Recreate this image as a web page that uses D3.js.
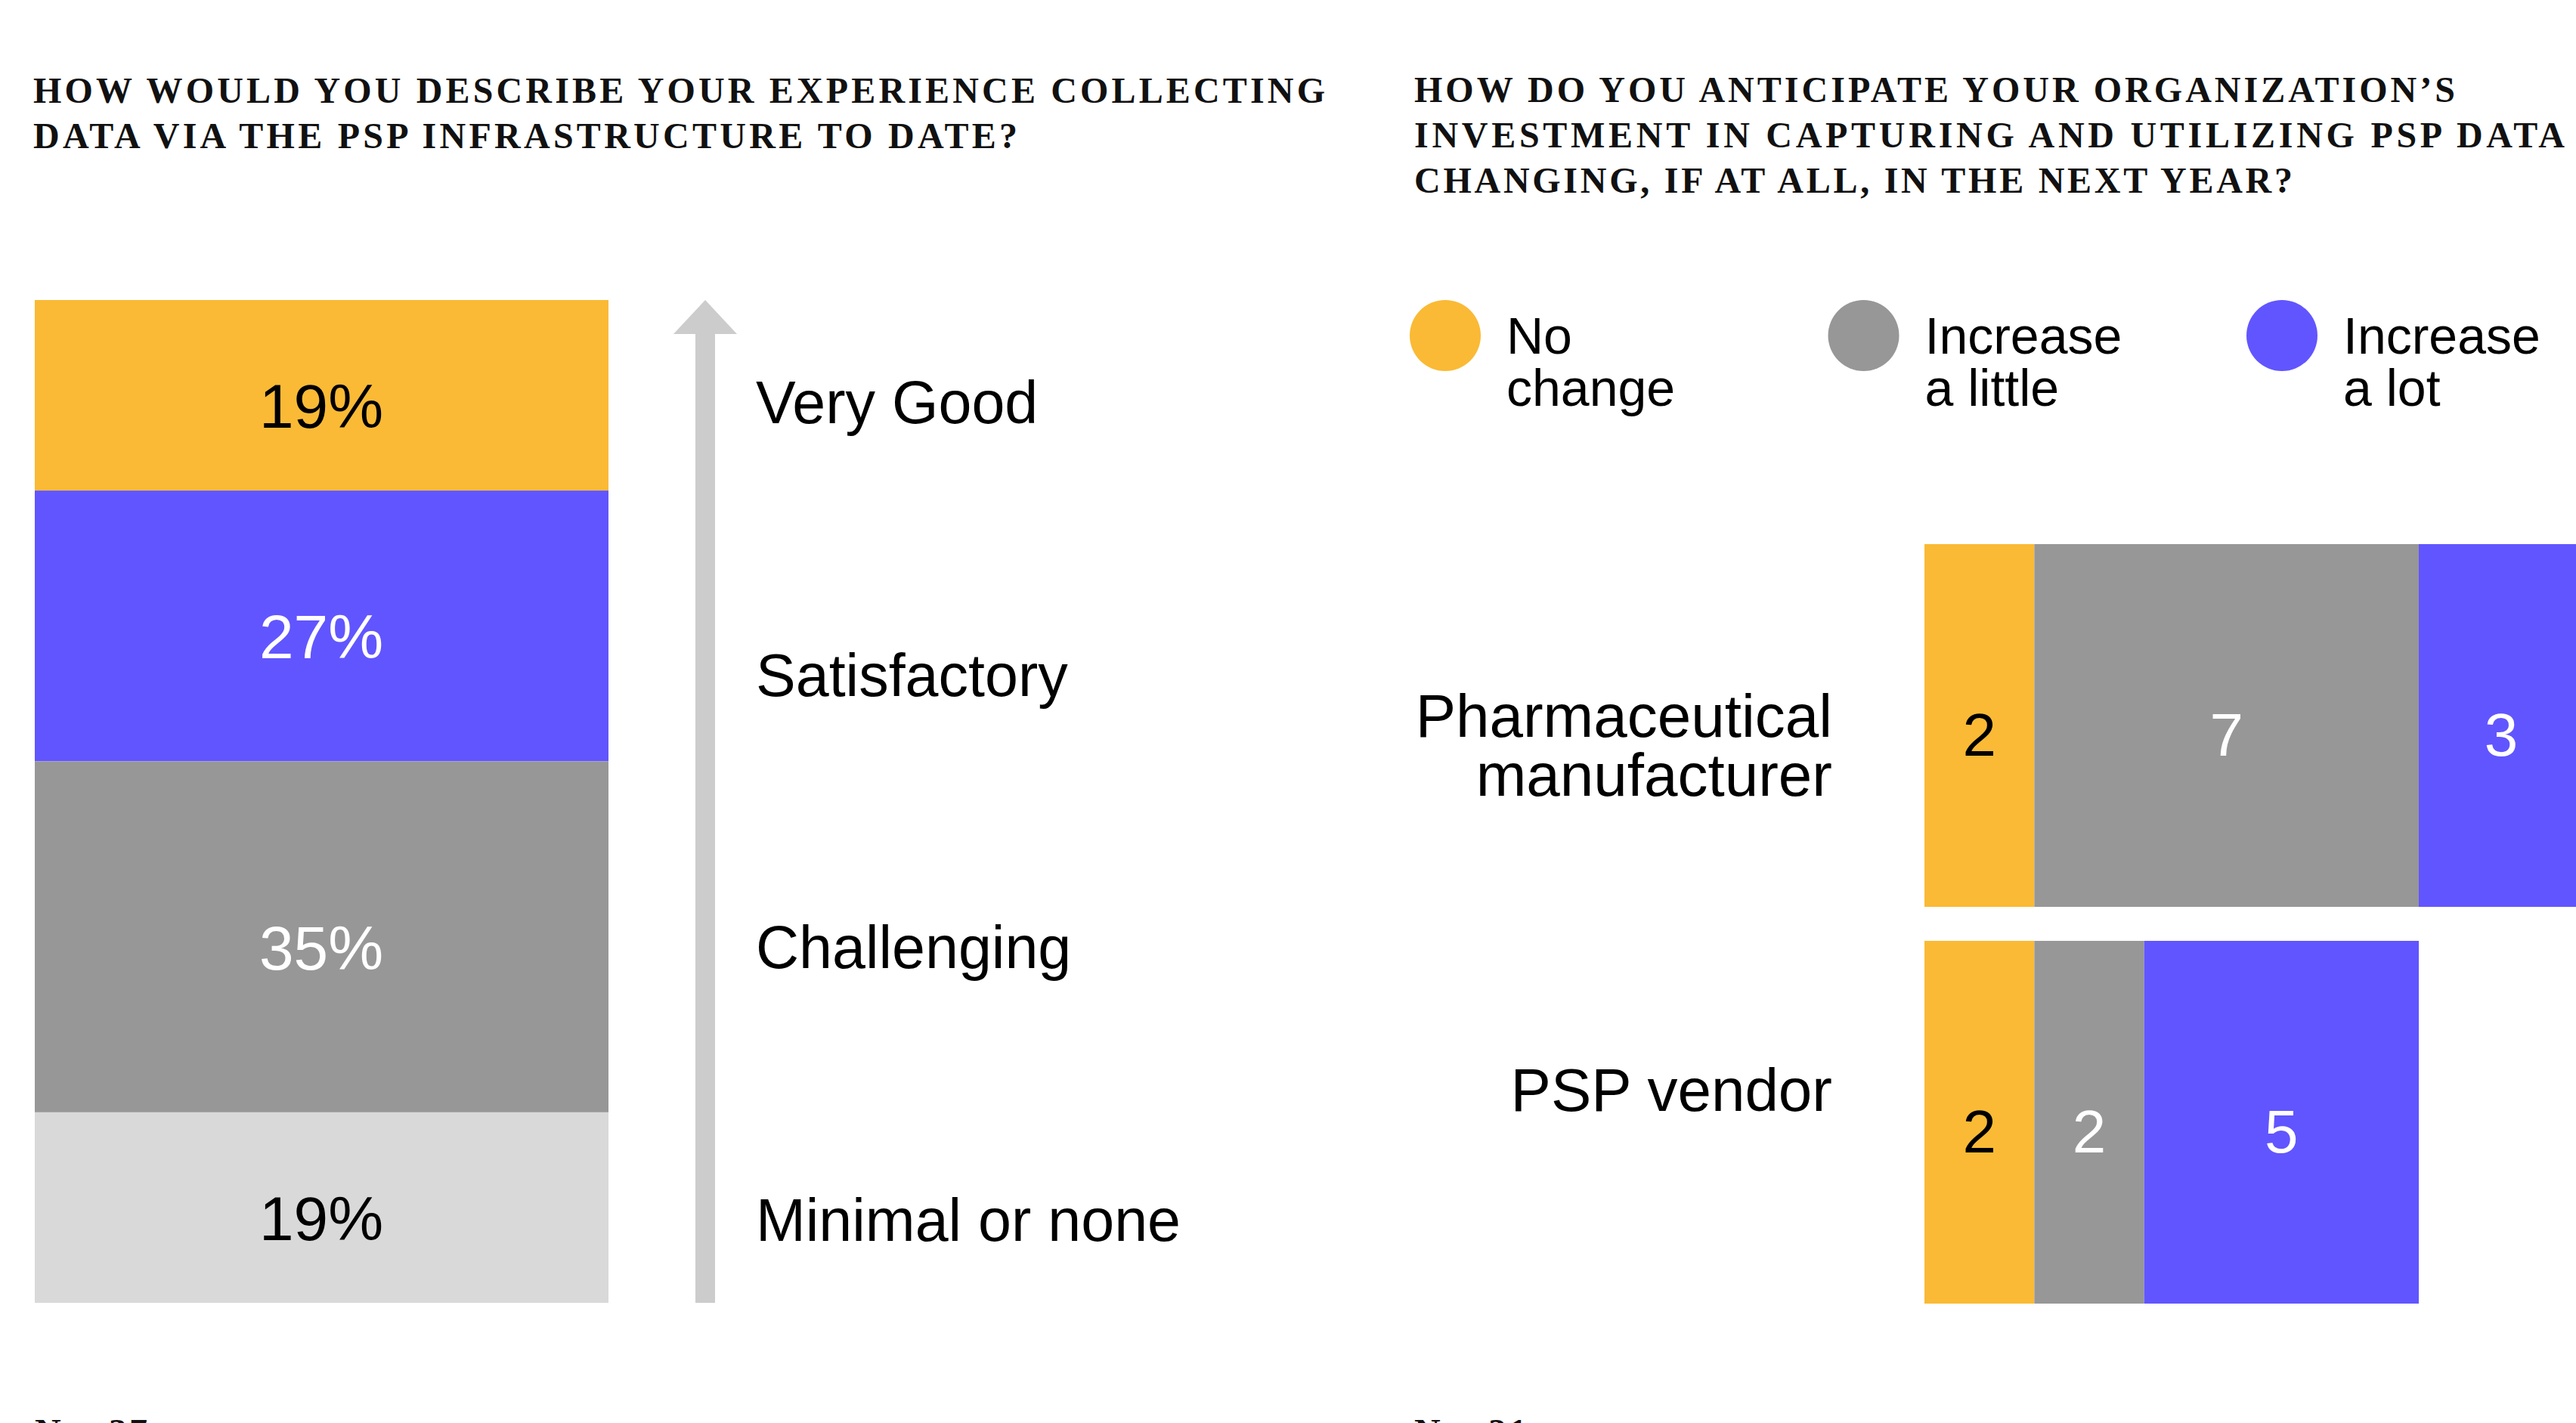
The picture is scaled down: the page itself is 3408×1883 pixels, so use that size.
<html>
<head>
  <meta charset="utf-8">
  <script src="https://d3js.org/d3.v7.min.js"></script>
  <style>
    body { margin: 0; background: #fff; }
    .title { font-family: "Liberation Serif", serif; font-weight: bold; font-size: 48px; fill: #111; }
    .lbl { font-family: "Liberation Sans", Arial, sans-serif; fill: #000; }
  </style>
</head>
<body>
<svg id="chart" width="3408" height="1883"></svg>
<script>
// left panel: experience collecting data
var ratingLabels = ["Very Good", "Satisfactory", "Challenging", "Minimal or none"];
var ratingShares = [19, 27, 35, 19];
var ratingColors = ["#FABA35", "#6155FF", "#979797", "#D9D9D9"];
var ratingText = ["#000", "#fff", "#fff", "#000"];

// right panel: investment change by organisation type
var groups = [["Pharmaceutical", "manufacturer"], ["PSP vendor"]];
var noChange = [2, 2];
var increaseLittle = [7, 2];
var increaseLot = [3, 5];
var seriesNames = [["No", "change"], ["Increase", "a little"], ["Increase", "a lot"]];
var seriesColors = ["#FABA35", "#979797", "#6155FF"];
var seriesText = ["#000", "#fff", "#fff"];

var leftTitle = ["HOW WOULD YOU DESCRIBE YOUR EXPERIENCE COLLECTING",
                 "DATA VIA THE PSP INFRASTRUCTURE TO DATE?"];
var rightTitle = ["HOW DO YOU ANTICIPATE YOUR ORGANIZATION\u2019S",
                  "INVESTMENT IN CAPTURING AND UTILIZING PSP DATA",
                  "CHANGING, IF AT ALL, IN THE NEXT YEAR?"];
var leftN = "N = 37", rightN = "N = 21";

var svg = d3.select("#chart");

// titles
function title(lines, x, y0, widths) {
  var t = svg.append("text").attr("class", "title");
  lines.forEach(function(l, i) {
    t.append("tspan").attr("x", x).attr("y", y0 + i * 60)
      .attr("textLength", widths[i]).attr("lengthAdjust", "spacing").text(l);
  });
}
title(leftTitle, 44, 136, [1709, 1302]);
title(rightTitle, 1871, 135, [1377, 1522, 1162]);

svg.append("text").attr("class", "title").attr("x", 46).attr("y", 1911).attr("letter-spacing", 3).text(leftN);
svg.append("text").attr("class", "title").attr("x", 1871).attr("y", 1911).attr("letter-spacing", 3).text(rightN);

// ---- left stacked column
var y = d3.scaleLinear().domain([0, 100]).range([397, 1724]);
var cum = 0;
var segs = ratingShares.map(function(v, i) {
  var s = {v: v, i: i, y0: cum, y1: cum + v};
  cum += v;
  return s;
});

var col = svg.append("g");
col.selectAll("rect").data(segs).enter().append("rect")
  .attr("x", 46).attr("width", 759)
  .attr("y", function(d) { return y(d.y0); })
  .attr("height", function(d) { return y(d.y1) - y(d.y0); })
  .attr("fill", function(d) { return ratingColors[d.i]; });

col.selectAll("text").data(segs).enter().append("text")
  .attr("class", "lbl")
  .attr("x", 425)
  .attr("y", function(d) { return (y(d.y0) + y(d.y1)) / 2 + 43; })
  .attr("text-anchor", "middle")
  .style("font-size", "82px")
  .style("fill", function(d) { return ratingText[d.i]; })
  .text(function(d) { return d.v + "%"; });

// arrow
svg.append("rect").attr("x", 920).attr("y", 440).attr("width", 26).attr("height", y(100) - 440).attr("fill", "#CCCCCC");
svg.append("path").attr("d", "M891,442 L933,397 L975,442 Z").attr("fill", "#CCCCCC");

var ly = d3.scalePoint().domain(ratingLabels).range([560, 1642]);
svg.append("g").selectAll("text").data(ratingLabels).enter().append("text")
  .attr("class", "lbl")
  .attr("x", 1000)
  .attr("y", function(d) { return ly(d); })
  .style("font-size", "79px")
  .text(function(d) { return d; });

// ---- legend
var lx = d3.scalePoint().domain(d3.range(3)).range([1912, 3019]);
var leg = svg.append("g").selectAll("g").data(seriesNames).enter().append("g")
  .attr("transform", function(d, i) { return "translate(" + lx(i) + ",444)"; });
leg.append("circle").attr("r", 47).attr("fill", function(d, i) { return seriesColors[i]; });
var lt = leg.append("text").attr("class", "lbl").style("font-size", "68px");
lt.selectAll("tspan").data(function(d) { return d; }).enter().append("tspan")
  .attr("x", 81).attr("y", function(d, j) { return 24 + j * 69; })
  .text(function(d) { return d; });

// ---- right stacked bars
var x = d3.scaleLinear().domain([0, 12]).range([2546, 3418]);
var yb = d3.scaleBand().domain(d3.range(groups.length)).range([720, 1725]).paddingInner(0.0857);
var series = [noChange, increaseLittle, increaseLot];
var labelShift = [25, -44];

groups.forEach(function(g, gi) {
  var acc = 0;
  var cells = series.map(function(s, si) {
    var c = {v: s[gi], si: si, x0: acc, x1: acc + s[gi]};
    acc += s[gi];
    return c;
  });
  var row = svg.append("g");
  row.selectAll("rect").data(cells).enter().append("rect")
    .attr("x", function(d) { return x(d.x0); })
    .attr("width", function(d) { return x(d.x1) - x(d.x0); })
    .attr("y", yb(gi)).attr("height", yb.bandwidth())
    .attr("fill", function(d) { return seriesColors[d.si]; });
  row.selectAll("text.val").data(cells).enter().append("text")
    .attr("class", "lbl val")
    .attr("x", function(d) { return (x(d.x0) + x(d.x1)) / 2; })
    .attr("y", yb(gi) + yb.bandwidth() / 2 + 40)
    .attr("text-anchor", "middle")
    .style("font-size", "80px")
    .style("fill", function(d) { return seriesText[d.si]; })
    .text(function(d) { return d.v; });

  var cy = yb(gi) + yb.bandwidth() / 2 + labelShift[gi];
  var t = row.append("text").attr("class", "lbl").attr("text-anchor", "end").style("font-size", "80px");
  t.selectAll("tspan").data(g).enter().append("tspan")
    .attr("x", 2424)
    .attr("y", function(d, j) { return cy + 29 + (j - (g.length - 1) / 2) * 78; })
    .text(function(d) { return d; });
});
</script>
</body>
</html>
